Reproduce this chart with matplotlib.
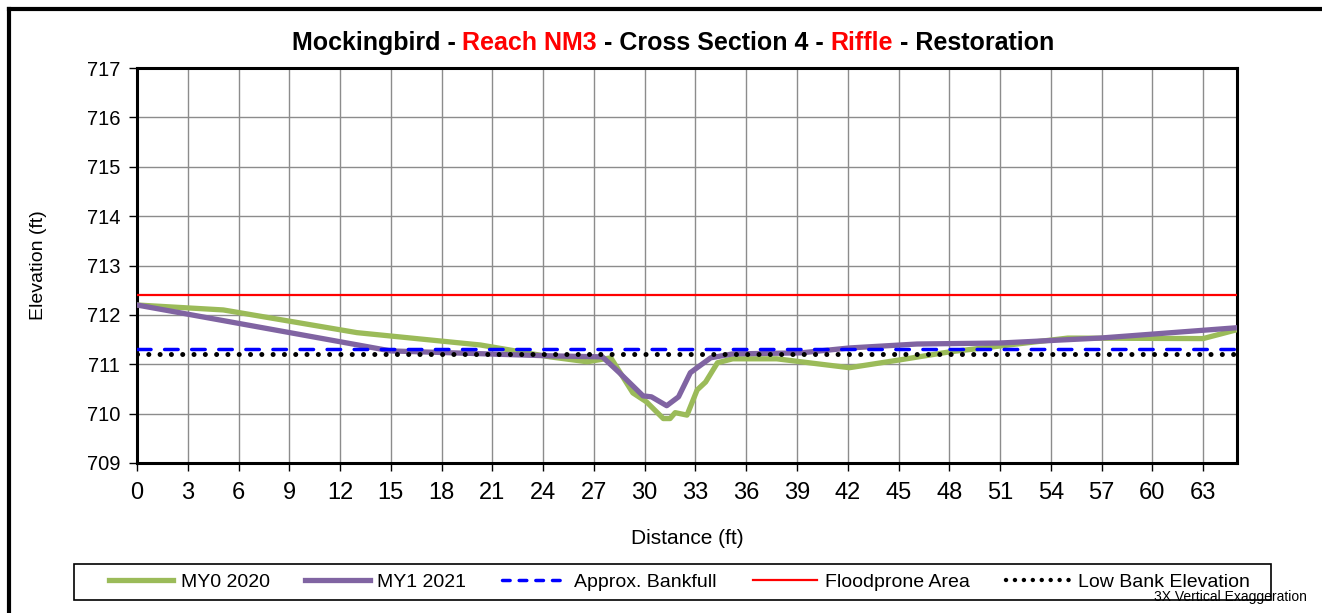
import numpy as np
import matplotlib
matplotlib.use("Agg")
import matplotlib.pyplot as plt
from matplotlib.lines import Line2D
from matplotlib.patches import Rectangle

plt.rcParams['font.family'] = ['Liberation Sans', 'DejaVu Sans']

# survey data
my0_x = [0, 5.1, 13, 20.3, 24.4, 26.6, 28, 29.3, 30.1, 31.1, 31.5, 31.8, 32.5, 33.1,
         33.6, 34.3, 35.2, 37.8, 42.1, 45.1, 48, 51, 55, 63, 65]
my0_y = [712.2, 712.1, 711.64, 711.39, 711.15, 711.05, 711.13, 710.42, 710.24, 709.9,
         709.9, 710.02, 709.97, 710.48, 710.64, 711.03, 711.11, 711.11, 710.93, 711.09,
         711.25, 711.37, 711.53, 711.52, 711.7]
my1_x = [0, 15, 24.4, 27.5, 28.5, 29.9, 30.4, 31.3, 32, 32.7, 33.9, 35.2, 39.2, 42.1,
         46.1, 51, 56.9, 65]
my1_y = [712.2, 711.27, 711.17, 711.15, 710.83, 710.36, 710.34, 710.16, 710.34, 710.83,
         711.13, 711.21, 711.23, 711.33, 711.41, 711.43, 711.53, 711.74]
bankfull = 711.3
floodprone = 712.4
low_bank = 711.2
x_range = [0, 65]

GREEN = '#9BBB59'
PURPLE = '#8064A2'

W, H = 1322, 613
fig = plt.figure(figsize=(W / 100, H / 100), dpi=100)
ax = fig.add_axes([137 / W, 1 - 463 / H, 1100 / W, 395 / H])

ax.plot(my0_x, my0_y, color=GREEN, lw=3.8, solid_joinstyle='round', zorder=4)
ax.plot(my1_x, my1_y, color=PURPLE, lw=3.8, solid_joinstyle='round', zorder=5)
ax.plot(x_range, [bankfull] * 2, color='#0000FF', lw=2.5, dashes=(3.9, 3.9),
        dash_capstyle='round', zorder=6)
ax.plot(x_range, [floodprone] * 2, color='#FF0000', lw=1.6, zorder=6)
ax.plot(x_range, [low_bank] * 2, color='black', lw=3.6, linestyle=(0, (0.01, 2.25)),
        dash_capstyle='round', zorder=6)

ax.set_xlim(0, 65)
ax.set_ylim(709, 717)
ax.set_xticks(np.arange(0, 64, 3))
ax.set_yticks(np.arange(709, 718, 1))
ax.grid(True, color='#8c8c8c', lw=1)
ax.set_axisbelow(True)
for s in ax.spines.values():
    s.set_linewidth(2.2)
ax.tick_params(axis='x', labelsize=17, length=6, width=1, direction='out', pad=8)
ax.tick_params(axis='y', labelsize=14.5, length=6, width=1, direction='out', pad=6)
ax.set_xlabel('Distance (ft)', fontsize=15, labelpad=18)
ax.set_ylabel('Elevation (ft)', fontsize=14, labelpad=29)

# multi-coloured title
parts = [('Mockingbird - ', 'black'), ('Reach NM3', 'red'), (' - Cross Section 4 - ', 'black'),
         ('Riffle', 'red'), (' - Restoration', 'black')]
renderer = fig.canvas.get_renderer()
texts = []
widths = []
for s, c in parts:
    t = fig.text(0, 0, s, color=c, fontsize=18, fontweight='bold', va='center')
    widths.append(t.get_window_extent(renderer).width)
    texts.append(t)
x0 = (673 - sum(widths) / 2)
for t, w in zip(texts, widths):
    t.set_position((x0 / W, 1 - 43 / H))
    x0 += w

handles = [
    Line2D([], [], color=GREEN, lw=3.8),
    Line2D([], [], color=PURPLE, lw=3.8),
    Line2D([], [], color='#0000FF', lw=2.5, dashes=(2.2, 2.6), dash_capstyle='round'),
    Line2D([], [], color='#FF0000', lw=1.6),
    Line2D([], [], color='black', lw=3.2, linestyle=(0, (0.01, 2.0)), dash_capstyle='round'),
]
labels = ['MY0 2020', 'MY1 2021', 'Approx. Bankfull', 'Floodprone Area', 'Low Bank Elevation']
leg = fig.legend(handles, labels, ncol=5, loc='center',
                 bbox_to_anchor=(679 / W, 1 - 582 / H),
                 fontsize=14, frameon=False,
                 handlelength=3.3, handletextpad=0.4, columnspacing=1.85,
                 borderpad=0.35, borderaxespad=0)
# legend box as drawn in the source chart (wider on the left)
fig.add_artist(Rectangle((74 / W, 1 - 600 / H), 1197 / W, 36 / H, transform=fig.transFigure,
                         fill=False, edgecolor='black', lw=1.2))

fig.text(1154 / W, 1 - 597 / H, '3X Vertical Exaggeration', fontsize=10,
         va='center', zorder=10)

# outer chart frame
fig.add_artist(Line2D([9 / W, 9 / W], [0, 1 - 9 / H], color='black', lw=3,
                      transform=fig.transFigure))
fig.add_artist(Line2D([9 / W, 1], [1 - 9 / H, 1 - 9 / H], color='black', lw=3,
                      transform=fig.transFigure))

fig.savefig('out.png', dpi=100)
